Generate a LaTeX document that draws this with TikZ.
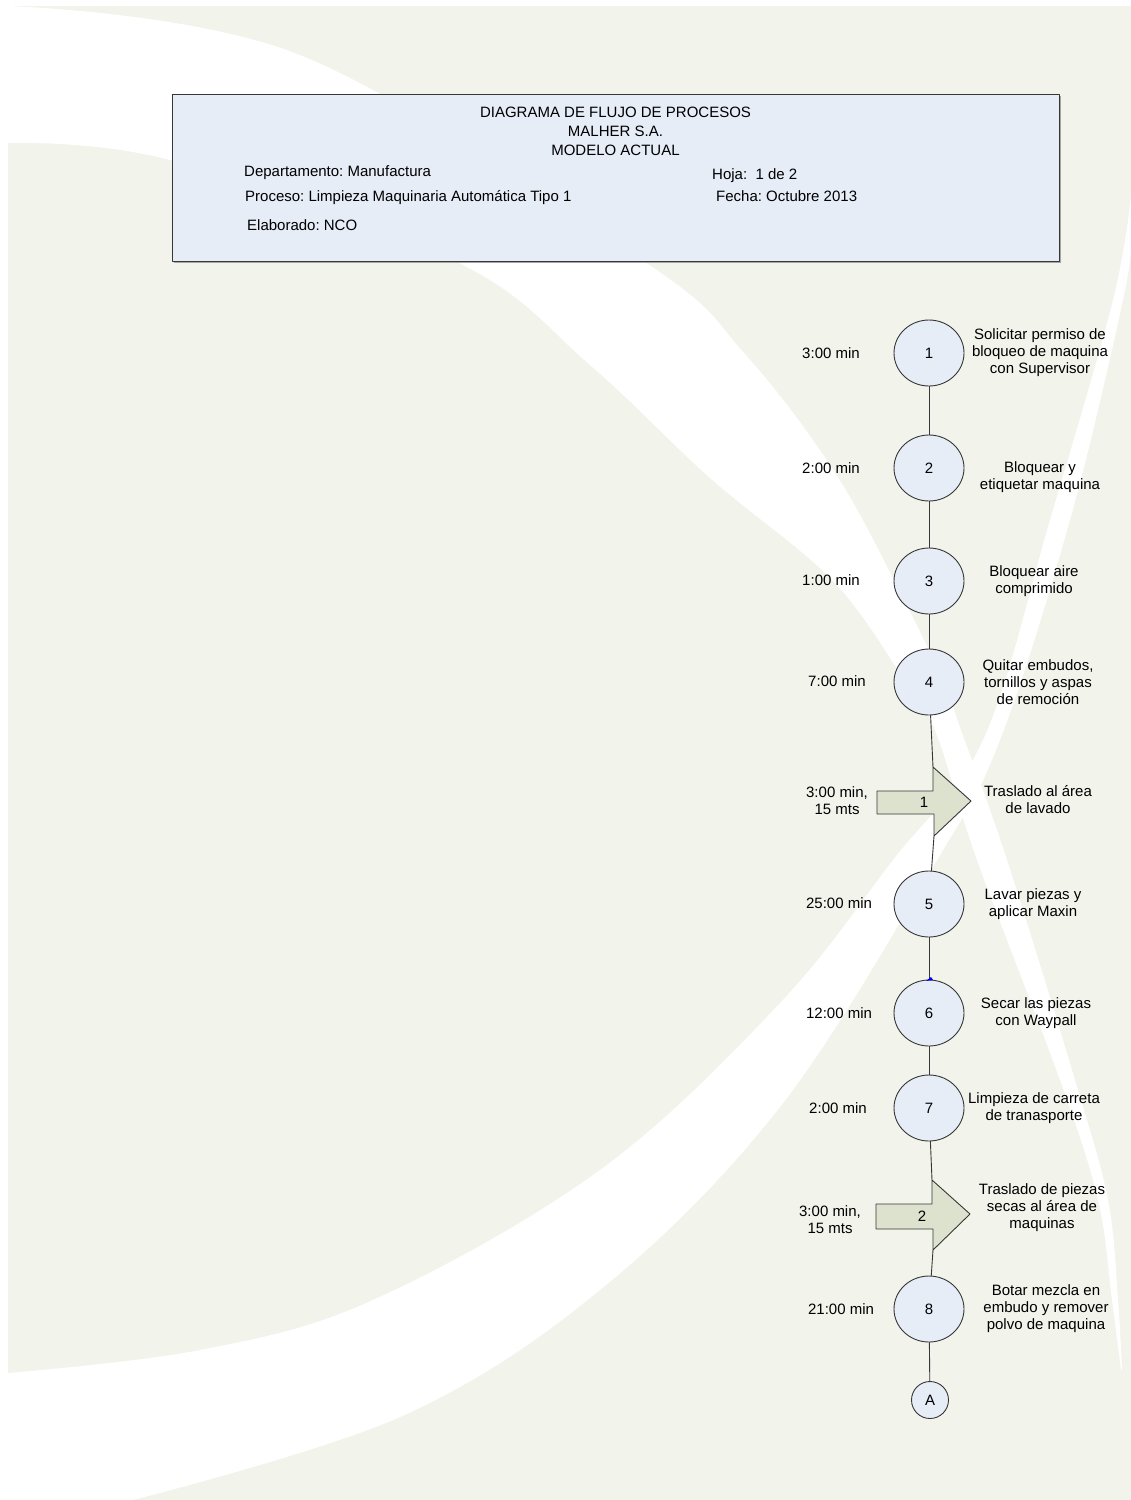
\documentclass[tikz,border=0pt]{standalone}
\usepackage{fontspec}
\setmainfont{Liberation Sans}
\usetikzlibrary{shapes.geometric}
\definecolor{fondo}{RGB}{242,243,235}
\definecolor{azulcaja}{RGB}{230,237,247}
\definecolor{verdeflecha}{RGB}{221,226,206}
\definecolor{borde}{RGB}{55,55,55}
\frenchspacing
\begin{document}
\begin{tikzpicture}[x=1pt, y=-1pt, line cap=round, line join=round, font=\fontsize{15}{17}\selectfont, >=stealth]
	\tikzset{operacion/.style={draw=borde, fill=azulcaja, ellipse, minimum width=70pt, minimum height=66pt, inner sep=0pt, line width=0.9pt},
		conector/.style={draw=borde, fill=azulcaja, circle, minimum size=37pt, inner sep=0pt, line width=0.9pt},
		flecha/.style={draw=borde, fill=verdeflecha, line width=0.9pt},
		texto/.style={align=center, inner sep=0pt},
		linea/.style={draw=borde, line width=0.9pt}}
	\useasboundingbox (0,0) rectangle (1131,1500);
	% fondo con las dos curvas blancas
	\fill[white] (0,0) rectangle (1131,1500);
	\fill[fondo] (8,6) rectangle (1131,1500);
	\fill[white] plot[smooth, tension=0.6] coordinates {(8,6) (300,55) (645,262) (744,353) (832,468) (894,580) (943,681) (962,733) (1007,860) (1075,1080) (1108,1200) (1118,1300) (1122,1370)}
		-- plot[smooth, tension=0.6] coordinates {(1121,1370) (1112,1300) (1098,1200) (1060,1080) (977,860) (936,733) (905,681) (832,580) (710,478) (590,365) (457,262) (170,160) (8,143)} -- cycle;
	\fill[white] plot[smooth, tension=0.6] coordinates {(1131,195) (1113,300) (1050,520) (983,740) (893,860) (780,1003) (600,1170) (373,1300) (200,1350) (8,1373)}
		-- (8,1500) -- plot[smooth, tension=0.6] coordinates {(133,1500) (400,1417) (600,1290) (780,1107) (937,860) (1000,740) (1070,520) (1123,300) (1131,240)} -- cycle;
	% encabezado
	\fill[black!35] (174,96) rectangle (1061,263);
	\draw[draw=borde, fill=azulcaja, line width=0.9pt] (172,94) rectangle (1059,261);
	\node[texto] (titulo) at (615.5,112) {DIAGRAMA DE FLUJO DE PROCESOS};
	\node[texto] (empresa) at (615.5,131) {MALHER S.A.};
	\node[texto] (modelo) at (615.5,150) {MODELO ACTUAL};
	\node[texto, anchor=west] (depto) at (244,173) {Departamento: Manufactura};
	\node[texto, anchor=west] (proceso) at (245,198) {Proceso: Limpieza Maquinaria Automática Tipo 1};
	\node[texto, anchor=west] (elab) at (247,225) {Elaborado: NCO};
	\node[texto, anchor=west] (hoja) at (712,176) {Hoja:\ \ 1 de 2};
	\node[texto, anchor=west] (fecha) at (716,196) {Fecha: Octubre 2013};
	% operaciones
	\node[operacion] (op1) at (929,353) {1};
	\node[operacion] (op2) at (929,468) {2};
	\node[operacion] (op3) at (929,581) {3};
	\node[operacion] (op4) at (929,682) {4};
	\node[operacion] (op5) at (929,904) {5};
	\node[operacion] (op6) at (929,1013) {6};
	\node[operacion] (op7) at (929,1108) {7};
	\node[operacion] (op8) at (929,1309) {8};
	\node[conector] (finA) at (930,1400) {A};
	% transportes
	\draw[flecha] (877,791) -- (933,791) -- (933,767) -- (971,801) -- (934,836) -- (934,814) -- (877,814) -- cycle;
	\node[texto] (tr1) at (924,802) {1};
	\coordinate (tr1in) at (933,767);
	\coordinate (tr1out) at (934,836);
	\draw[flecha] (876,1204) -- (932,1204) -- (932,1180) -- (970,1214) -- (933,1250) -- (933,1229) -- (876,1229) -- cycle;
	\node[texto] (tr2) at (922,1216) {2};
	\coordinate (tr2in) at (932,1180);
	\coordinate (tr2out) at (933,1250);
	% lineas
	\draw[linea] (op1) -- (op2);
	\draw[linea] (op2) -- (op3);
	\draw[linea] (op3) -- (op4);
	\draw[linea] (op4) -- (tr1in);
	\draw[linea] (tr1out) -- (op5);
	\draw[linea] (op5) -- (op6);
	\draw[linea] (op6) -- (op7);
	\draw[linea] (op7) -- (tr2in);
	\draw[linea] (tr2out) -- (op8);
	\draw[linea] (op8) -- (finA);
	\fill[blue] (926,981) -- (931,977) -- (933,980) -- cycle;
	% tiempos
	\node[texto] (t1) at (831,353) {3:00 min};
	\node[texto] (t2) at (831,468) {2:00 min};
	\node[texto] (t3) at (831,580) {1:00 min};
	\node[texto] (t4) at (837,681) {7:00 min};
	\node[texto] (tt1) at (837,801) {3:00 min,\\15 mts};
	\node[texto] (t5) at (839,903) {25:00 min};
	\node[texto] (t6) at (839,1013) {12:00 min};
	\node[texto] (t7) at (838,1108) {2:00 min};
	\node[texto] (tt2) at (830,1220) {3:00 min,\\15 mts};
	\node[texto] (t8) at (841,1309) {21:00 min};
	% descripciones
	\node[texto] (d1) at (1040,353) {Solicitar permiso de\\bloqueo de maquina\\con Supervisor};
	\node[texto] (d2) at (1040,477) {Bloquear y\\etiquetar maquina};
	\node[texto] (d3) at (1034,581) {Bloquear aire\\comprimido};
	\node[texto] (d4) at (1038,682) {Quitar embudos,\\tornillos y aspas\\de remoción};
	\node[texto] (dt1) at (1038,800) {Traslado al área\\de lavado};
	\node[texto] (d5) at (1033,904) {Lavar piezas y\\aplicar Maxin};
	\node[texto] (d6) at (1036,1013) {Secar las piezas\\con Waypall};
	\node[texto] (d7) at (1034,1108) {Limpieza de carreta\\de tranasporte};
	\node[texto] (dt2) at (1042,1208) {Traslado de piezas\\secas al área de\\maquinas};
	\node[texto] (d8) at (1046,1309) {Botar mezcla en\\embudo y remover\\polvo de maquina};
\end{tikzpicture}
\end{document}
